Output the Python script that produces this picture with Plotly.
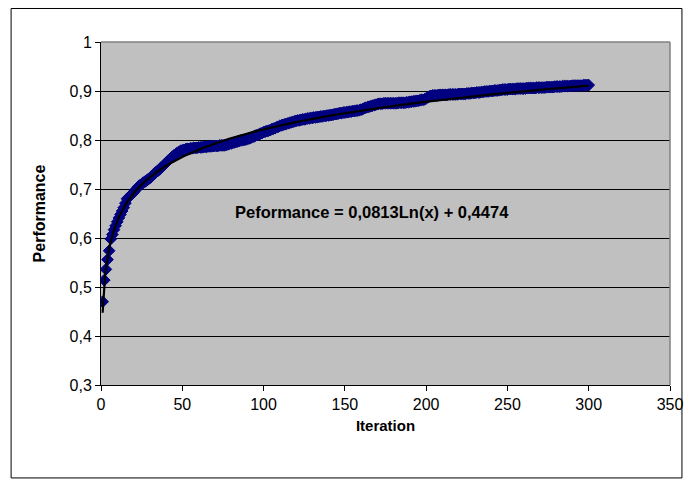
import numpy as np
import plotly.graph_objects as go

# ---- data ----
iterations = list(range(1, 301))
performance = [
    0.470, 0.514, 0.536, 0.556, 0.574, 0.598, 0.607, 0.617, 0.625, 0.633,
    0.641, 0.648, 0.655, 0.662, 0.671, 0.680, 0.683, 0.686, 0.690, 0.693,
    0.697, 0.701, 0.705, 0.708, 0.710, 0.713, 0.715, 0.717, 0.720, 0.722,
    0.725, 0.729, 0.732, 0.735, 0.737, 0.740, 0.744, 0.747, 0.750, 0.753,
    0.757, 0.760, 0.763, 0.766, 0.769, 0.771, 0.774, 0.776, 0.778, 0.779,
    0.780, 0.781, 0.782, 0.782, 0.783, 0.783, 0.784, 0.784, 0.784, 0.785,
    0.785, 0.785, 0.786, 0.786, 0.786, 0.787, 0.787, 0.787, 0.788, 0.788,
    0.788, 0.788, 0.789, 0.789, 0.789, 0.789, 0.790, 0.791, 0.792, 0.793,
    0.794, 0.795, 0.796, 0.797, 0.798, 0.799, 0.800, 0.800, 0.801, 0.802,
    0.803, 0.804, 0.806, 0.807, 0.809, 0.810, 0.811, 0.813, 0.814, 0.816,
    0.817, 0.818, 0.819, 0.820, 0.822, 0.823, 0.824, 0.826, 0.827, 0.829,
    0.830, 0.831, 0.832, 0.833, 0.834, 0.835, 0.836, 0.837, 0.838, 0.839,
    0.840, 0.840, 0.841, 0.842, 0.842, 0.843, 0.844, 0.844, 0.845, 0.845,
    0.846, 0.846, 0.847, 0.847, 0.848, 0.848, 0.849, 0.849, 0.850, 0.850,
    0.851, 0.851, 0.852, 0.853, 0.853, 0.854, 0.855, 0.855, 0.856, 0.856,
    0.857, 0.857, 0.858, 0.858, 0.859, 0.859, 0.860, 0.860, 0.861, 0.862,
    0.863, 0.865, 0.866, 0.867, 0.868, 0.869, 0.870, 0.871, 0.872, 0.873,
    0.874, 0.874, 0.874, 0.875, 0.875, 0.875, 0.875, 0.875, 0.875, 0.875,
    0.875, 0.875, 0.876, 0.876, 0.876, 0.876, 0.876, 0.877, 0.877, 0.878,
    0.878, 0.879, 0.879, 0.880, 0.880, 0.881, 0.882, 0.882, 0.883, 0.885,
    0.887, 0.889, 0.890, 0.891, 0.891, 0.891, 0.891, 0.892, 0.892, 0.892,
    0.892, 0.892, 0.892, 0.893, 0.893, 0.893, 0.893, 0.893, 0.893, 0.894,
    0.894, 0.894, 0.894, 0.894, 0.895, 0.895, 0.895, 0.896, 0.896, 0.896,
    0.897, 0.897, 0.897, 0.898, 0.898, 0.899, 0.899, 0.899, 0.900, 0.900,
    0.900, 0.901, 0.901, 0.901, 0.902, 0.902, 0.903, 0.903, 0.903, 0.903,
    0.904, 0.904, 0.904, 0.904, 0.904, 0.905, 0.905, 0.905, 0.905, 0.905,
    0.905, 0.906, 0.906, 0.906, 0.906, 0.906, 0.906, 0.907, 0.907, 0.907,
    0.907, 0.907, 0.907, 0.908, 0.908, 0.908, 0.908, 0.908, 0.909, 0.909,
    0.909, 0.909, 0.909, 0.910, 0.910, 0.910, 0.910, 0.910, 0.910, 0.911,
    0.911, 0.911, 0.911, 0.911, 0.911, 0.911, 0.912, 0.912, 0.912, 0.912,
]

# logarithmic trendline coefficients as printed on the chart
trend_slope = 0.0813
trend_intercept = 0.4474
trend_label = "Peformance = 0,0813Ln(x) + 0,4474"

x_tick_values = [0, 50, 100, 150, 200, 250, 300, 350]
x_tick_labels = ["0", "50", "100", "150", "200", "250", "300", "350"]
y_tick_values = [0.3, 0.4, 0.5, 0.6, 0.7, 0.8, 0.9, 1.0]
y_tick_labels = ["0,3", "0,4", "0,5", "0,6", "0,7", "0,8", "0,9", "1"]

x_title = "Iteration"
y_title = "Performance"

# ---- figure ----
FONT = "Liberation Sans, Arial, sans-serif"

trend_x = np.linspace(min(iterations), max(iterations), 600)
trend_y = trend_slope * np.log(trend_x) + trend_intercept

fig = go.Figure()
fig.add_trace(go.Scatter(
    x=iterations, y=performance, mode="markers",
    marker=dict(symbol="diamond", size=9, color="#000080",
                line=dict(color="#000080", width=1)),
    showlegend=False, hoverinfo="skip",
))
fig.add_trace(go.Scatter(
    x=trend_x, y=trend_y, mode="lines",
    line=dict(color="#000000", width=2.2),
    showlegend=False, hoverinfo="skip",
))

fig.update_layout(
    width=684, height=487,
    margin=dict(l=101, r=14, t=42, b=102, autoexpand=False),
    paper_bgcolor="white",
    plot_bgcolor="#C0C0C0",
    font=dict(family=FONT, size=16, color="black"),
    xaxis=dict(
        range=[0, 350], tickvals=x_tick_values, ticktext=x_tick_labels,
        showgrid=False, zeroline=False, automargin=False,
        showline=True, linecolor="black", linewidth=1,
        ticks="outside", ticklen=5, tickcolor="black", tickwidth=1,
        tickfont=dict(size=16),
        title=dict(text="<b>" + x_title + "</b>", standoff=8,
                   font=dict(size=15)),
    ),
    yaxis=dict(
        range=[0.3, 1.0], tickvals=y_tick_values, ticktext=y_tick_labels,
        showgrid=True, gridcolor="black", gridwidth=1, zeroline=False,
        automargin=False,
        showline=True, linecolor="black", linewidth=1,
        ticks="outside", ticklen=5, tickcolor="black", tickwidth=1,
        tickfont=dict(size=16),
        title=dict(text="<b>" + y_title + "</b>", standoff=19,
                   font=dict(size=16)),
    ),
    annotations=[dict(
        x=167, y=0.653, xref="x", yref="y",
        text="<b>" + trend_label + "</b>", showarrow=False,
        font=dict(size=16.5, family=FONT, color="black"),
    )],
    shapes=[
        # gray plot-area frame (top and right edges)
        dict(type="line", xref="paper", yref="paper", x0=0, x1=1, y0=1, y1=1,
             line=dict(color="#808080", width=1.5)),
        dict(type="line", xref="paper", yref="paper", x0=1, x1=1, y0=0, y1=1,
             line=dict(color="#808080", width=1.5)),
        # outer chart border
        dict(type="rect", xref="paper", yref="paper",
             x0=-0.158, x1=1.021, y0=-0.271, y1=1.0977,
             line=dict(color="black", width=1), fillcolor="rgba(0,0,0,0)",
             layer="below"),
    ],
)

# remove the default page margin so the figure fills the window exactly
fig.write_html(
    "out.html",
    config={"displayModeBar": False},
    post_script="document.body.style.margin='0';document.body.style.overflow='hidden';",
)
